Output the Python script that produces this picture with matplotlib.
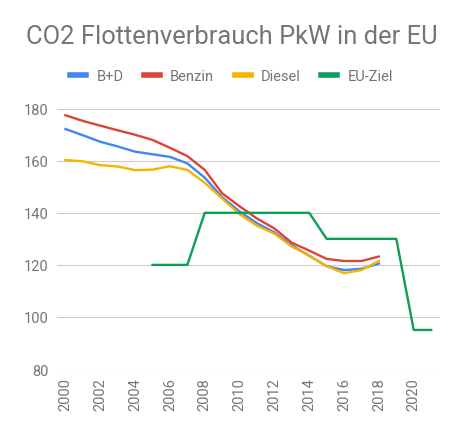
import matplotlib.pyplot as plt

years = list(range(2000, 2019))
bd = [172.2, 169.8, 167.3, 165.5, 163.5, 162.5, 161.5, 159.0, 153.5, 146.0,
      140.5, 136.0, 132.5, 127.5, 123.5, 119.5, 118.0, 118.5, 120.5]
benzin = [177.5, 175.3, 173.5, 171.7, 170.0, 168.0, 165.0, 161.8, 156.5, 147.5,
          142.5, 137.8, 134.0, 128.5, 125.5, 122.3, 121.5, 121.5, 123.2]
diesel = [160.3, 159.8, 158.3, 157.8, 156.4, 156.6, 157.9, 156.5, 151.5, 145.5,
          139.5, 135.0, 132.0, 127.0, 123.5, 119.5, 116.8, 118.0, 121.5]
ziel_years = list(range(2005, 2022))
ziel = [120, 120, 120, 140, 140, 140, 140, 140, 140, 140,
        130, 130, 130, 130, 130, 95, 95]

plt.rcParams['font.family'] = ['Roboto', 'DejaVu Sans']
grey = '#757575'

fig = plt.figure(figsize=(4.63, 4.35), dpi=100)
ax = fig.add_axes([0.1225, 0.1494, 0.8275, 0.5984])

ax.plot(years, bd, color='#4285F4', lw=1.7, label='B+D', clip_on=False)
ax.plot(years, benzin, color='#DB4437', lw=1.7, label='Benzin', clip_on=False)
ax.plot(years, diesel, color='#F4B400', lw=1.7, label='Diesel', clip_on=False)
ax.plot(ziel_years, ziel, color='#0F9D58', lw=1.7, label='EU-Ziel', clip_on=False)

ax.set_xlim(1999.5, 2021.5)
ax.set_ylim(80, 180)
ax.set_yticks([80, 100, 120, 140, 160, 180])
ax.set_xticks(range(2000, 2021, 2))
ax.tick_params(axis='x', labelrotation=90, length=0, colors=grey, labelsize=10.5, pad=6)
ax.tick_params(axis='y', length=0, colors=grey, labelsize=10.5, pad=6)
ax.grid(axis='y', color='#cccccc', lw=0.8)
ax.set_axisbelow(True)
for s in ax.spines.values():
    s.set_visible(False)

fig.text(0.5, 0.915, 'CO2 Flottenverbrauch PkW in der EU', ha='center', va='center',
         fontsize=18.4, color=grey)
fig.legend(loc='center', bbox_to_anchor=(0.5, 0.823), ncol=4, frameon=False,
           fontsize=10.5, labelcolor=grey, handlelength=1.1, handletextpad=0.7,
           columnspacing=1.4)
for line in fig.legends[0].get_lines():
    line.set_linewidth(4)

fig.savefig('out.png', dpi=100)
